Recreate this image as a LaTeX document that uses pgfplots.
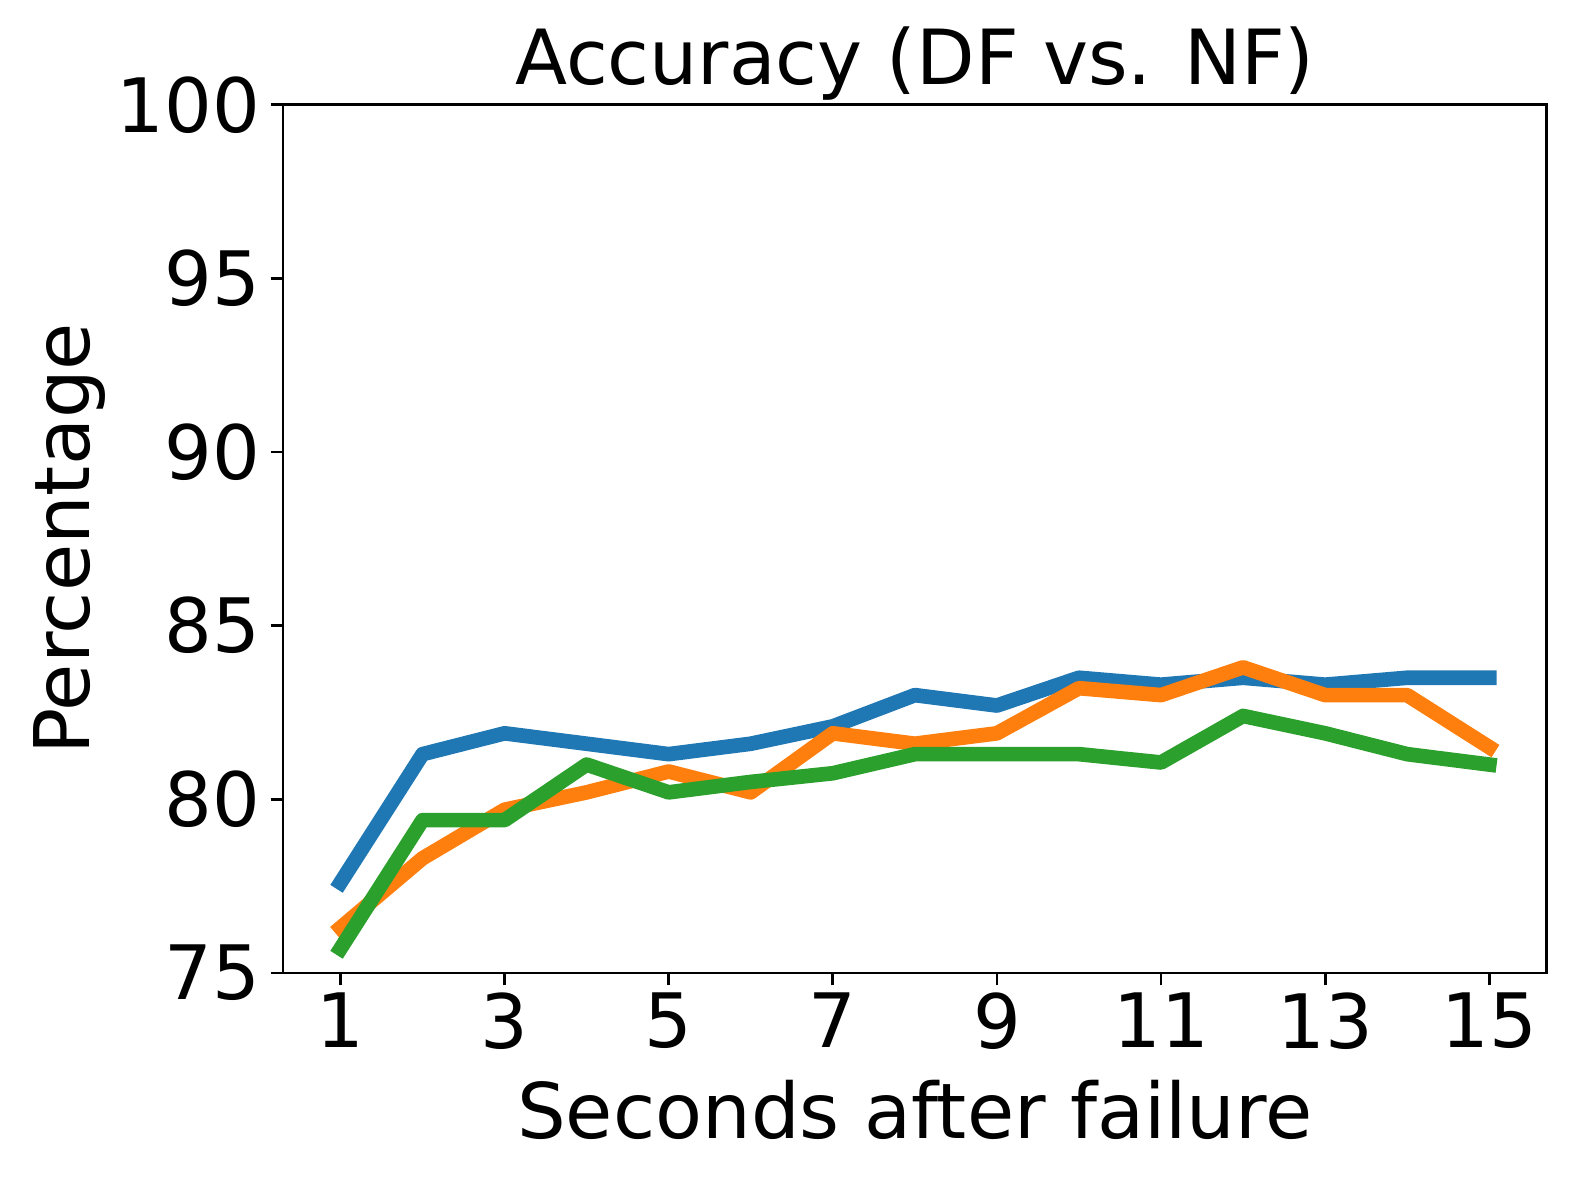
\documentclass[border=0pt]{standalone}
\usepackage{fontspec}
\setmainfont{DejaVu Sans}
\usepackage{pgfplots}
\pgfplotsset{compat=1.18}
\definecolor{tabblue}{HTML}{1F77B4}
\definecolor{taborange}{HTML}{FF7F0E}
\definecolor{tabgreen}{HTML}{2CA02C}
\begin{document}
\begin{tikzpicture}
\fontsize{22}{26}\selectfont
\useasboundingbox (-1.148in,-0.851in) rectangle (5.252in,3.946in);
\begin{axis}[
  at={(0,0)}, anchor=south west,
  scale only axis,
  width=5.125in, height=3.521in,
  xmin=0.3, xmax=15.7,
  ymin=75, ymax=100,
  xtick={1,3,5,7,9,11,13,15},
  ytick={75,80,85,90,95,100},
  xtick pos=bottom, ytick pos=left,
  tick align=outside,
  major tick length=0.05in,
  tick style={line width=0.8pt, black},
  axis line style={line width=0.8pt},
  tick label style={font=\fontsize{22}{26}\selectfont},
  /pgf/number format/assume math mode=true,
  xticklabel style={inner sep=2pt},
  yticklabel style={inner sep=3pt},
  title={Accuracy (DF vs. NF)},
  title style={font=\fontsize{22.3}{26}\selectfont, at={(axis description cs:0.5,1.024)}, anchor=center},
  xlabel={Seconds after failure},
  xlabel style={font=\fontsize{22.5}{26}\selectfont, at={(axis description cs:0.5,-0.158)}, anchor=center},
  ylabel={Percentage},
  ylabel style={font=\fontsize{22.5}{26}\selectfont, at={(axis description cs:-0.169,0.5)}, anchor=center, rotate=0},
  every axis plot/.append style={line width=4.3pt, line cap=rect, line join=round, mark=none},
]
\addplot[tabblue] coordinates {
(1,77.6) (2,81.3) (3,81.9) (4,81.6) (5,81.3) (6,81.6) (7,82.1) (8,83.0)
(9,82.7) (10,83.5) (11,83.3) (12,83.5) (13,83.3) (14,83.5) (15,83.5)};
\addplot[taborange] coordinates {
(1,76.3) (2,78.3) (3,79.7) (4,80.2) (5,80.8) (6,80.2) (7,81.9) (8,81.6)
(9,81.9) (10,83.2) (11,83.0) (12,83.8) (13,83.0) (14,83.0) (15,81.5)};
\addplot[tabgreen] coordinates {
(1,75.7) (2,79.4) (3,79.4) (4,81.0) (5,80.2) (6,80.5) (7,80.75) (8,81.3)
(9,81.3) (10,81.3) (11,81.06) (12,82.4) (13,81.9) (14,81.3) (15,81.0)};
\end{axis}
\end{tikzpicture}
\end{document}
